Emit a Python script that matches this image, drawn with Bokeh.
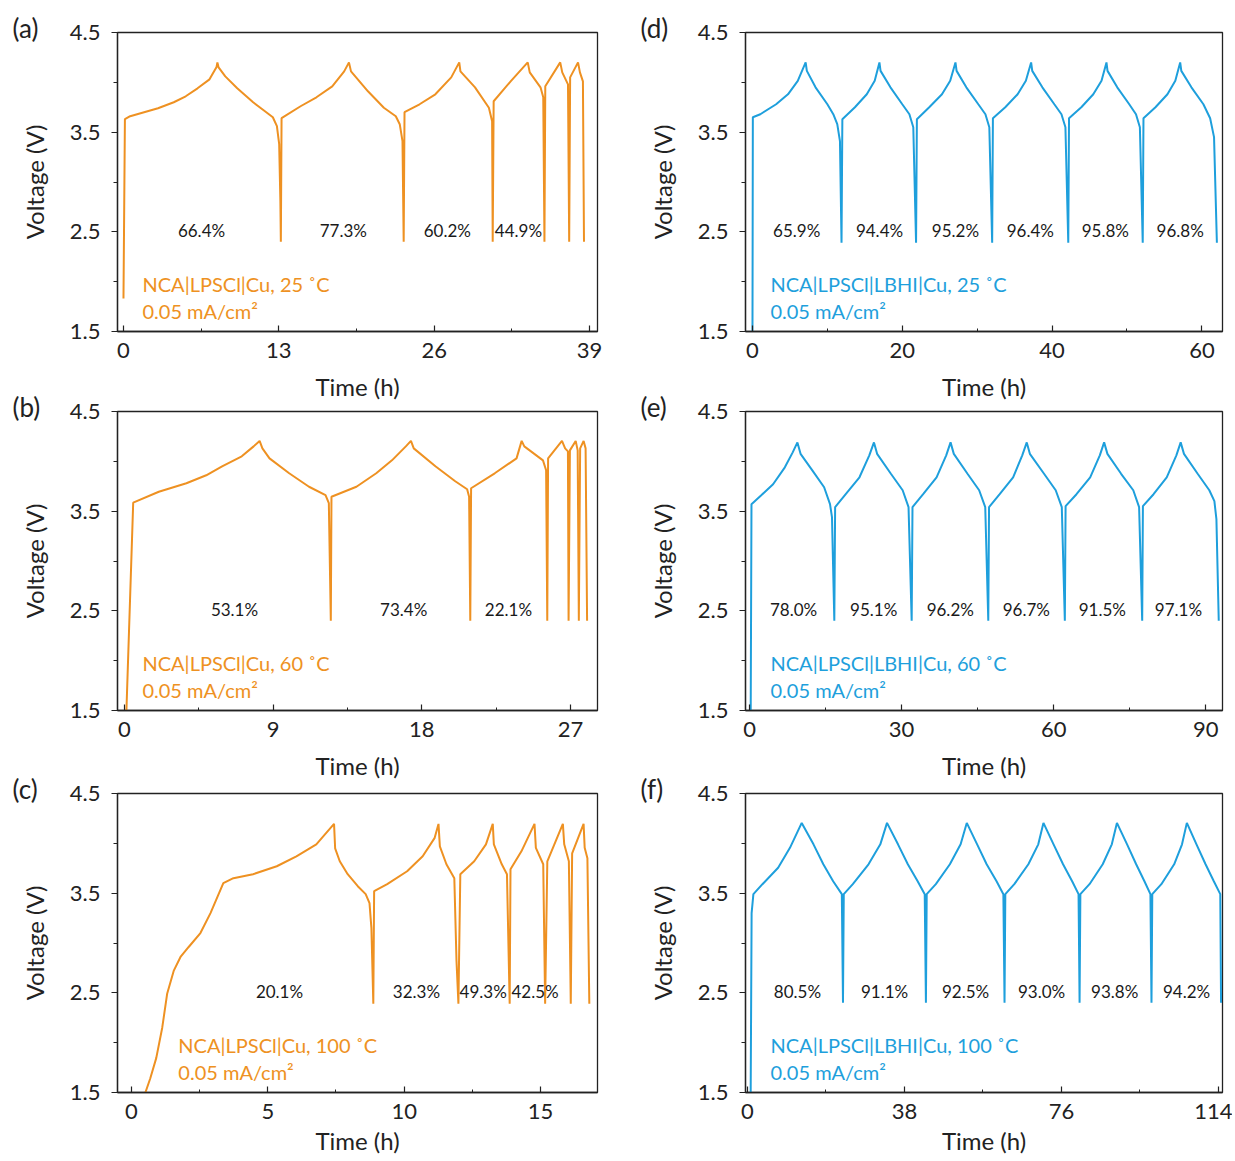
from bokeh.plotting import figure
from bokeh.layouts import column, row
from bokeh.models import FixedTicker, Range1d
from bokeh.core.properties import value
from bokeh.embed import file_html
from bokeh.resources import INLINE

FONT = "Lato"
ORANGE = "#EE9122"
BLUE = "#1E9FDC"

# ---------------- data ----------------
# (a) NCA|LPSCl|Cu, 25 C
TA = [0.0, 0.12, 0.56, 2.89, 4.21, 5.21, 6.2, 7.2, 7.79, 7.86,
      7.96, 8.52, 9.52, 10.85, 11.84, 12.5, 12.84, 13.03, 13.13, 13.17,
      13.23, 14.82, 16.15, 17.47, 18.47, 18.87,
      19.04, 20.46, 21.79, 22.79, 23.12, 23.35, 23.45,
      23.52, 24.78, 26.1, 27.43, 28.1,
      28.2, 29.42, 30.58, 30.85, 30.9,
      30.98, 32.4, 33.83,
      34.0, 34.9, 35.13, 35.23,
      35.3, 36.55,
      36.72, 37.2, 37.3,
      37.38, 38.04,
      38.2, 38.45, 38.54]
VA = [1.83, 3.63, 3.66, 3.74, 3.80, 3.86, 3.94, 4.03, 4.155, 4.2,
      4.15, 4.06, 3.94, 3.80, 3.71, 3.65, 3.56, 3.38, 2.81, 2.40,
      3.64, 3.76, 3.85, 3.96, 4.11, 4.2,
      4.11, 3.91, 3.745, 3.66, 3.58, 3.41, 2.40,
      3.70, 3.78, 3.88, 4.05, 4.2,
      4.11, 3.95, 3.745, 3.61, 2.40,
      3.81, 4.01, 4.2,
      4.1, 3.95, 3.85, 2.40,
      3.96, 4.2,
      4.1, 3.98, 2.40,
      4.05, 4.2,
      4.1, 4.01, 2.40]

# (b) NCA|LPSCl|Cu, 60 C
TB = [0.1, 0.53, 2.08, 3.75, 4.95, 5.91, 7.1, 7.82, 8.18,
      8.35, 8.78, 9.97, 11.17, 12.17, 12.37, 12.49,
      12.53, 14.04, 15.24, 16.19, 17.03, 17.34,
      17.51, 18.82, 20.02, 20.74, 20.86, 20.93,
      20.98, 22.41, 23.73, 24.04,
      24.2, 25.33, 25.52, 25.59,
      25.64, 26.48,
      26.67, 26.84, 26.88,
      26.96, 27.31,
      27.43, 27.5,
      27.58, 27.79,
      27.91, 28.0]
VB = [1.4, 3.585, 3.695, 3.78, 3.86, 3.95, 4.05, 4.15, 4.205,
      4.13, 4.03, 3.88, 3.745, 3.66, 3.58, 2.40,
      3.645, 3.745, 3.88, 4.01, 4.15, 4.205,
      4.13, 3.95, 3.80, 3.72, 3.645, 2.40,
      3.73, 3.88, 4.03, 4.205,
      4.15, 4.01, 3.91, 2.40,
      4.03, 4.205,
      4.13, 4.10, 2.40,
      4.11, 4.205,
      4.11, 2.40,
      4.13, 4.205,
      4.13, 2.40]

# (c) NCA|LPSCl|Cu, 100 C
TC = [0.45, 0.69, 0.91, 1.13, 1.31, 1.55, 1.8, 2.1, 2.53, 2.9, 3.37, 3.74, 4.46, 5.33, 6.05, 6.78, 7.43,
      7.47, 7.64, 7.93, 8.3, 8.59, 8.73, 8.8, 8.87,
      8.9, 9.38, 10.11, 10.68, 11.12, 11.26,
      11.31, 11.55, 11.84, 11.92, 11.99,
      12.06, 12.57, 13.0, 13.25,
      13.29, 13.58, 13.77, 13.87,
      13.9, 14.3, 14.78,
      14.83, 15.1, 15.17,
      15.25, 15.82,
      15.87, 16.04, 16.11,
      16.16, 16.58,
      16.62, 16.72, 16.79]
VC = [1.45, 1.64, 1.845, 2.15, 2.49, 2.72, 2.86, 2.96, 3.10, 3.30, 3.60, 3.65, 3.69, 3.77, 3.87, 3.99, 4.195,
      3.95, 3.82, 3.69, 3.57, 3.49, 3.40, 3.15, 2.39,
      3.52, 3.59, 3.72, 3.87, 4.055, 4.195,
      3.97, 3.79, 3.65, 2.82, 2.39,
      3.69, 3.82, 3.99, 4.195,
      3.99, 3.79, 3.69, 2.39,
      3.74, 3.92, 4.195,
      3.955, 3.79, 2.39,
      3.82, 4.195,
      3.99, 3.82, 2.39,
      3.90, 4.195,
      3.955, 3.85, 2.39]

# (d) NCA|LPSCl|LBHI|Cu, 25 C
TD = [0.0, 0.05, 1.05, 3.16, 4.74, 6.05, 7.1, 7.26, 8.42, 10.0, 10.79, 11.32, 11.68, 11.89,
      12.0, 13.68, 15.26, 16.32, 16.95, 17.1, 18.42, 20.0, 20.95, 21.47, 21.84,
      21.95, 23.6, 25.3, 26.4, 27.1, 27.25, 28.55, 30.15, 31.1, 31.62, 32.0,
      32.1, 33.75, 35.4, 36.5, 37.2, 37.35, 38.7, 40.3, 41.25, 41.78, 42.16,
      42.26, 43.9, 45.5, 46.6, 47.26, 47.4, 48.7, 50.3, 51.2, 51.72, 52.1,
      52.2, 53.8, 55.4, 56.45, 57.1, 57.25, 58.6, 60.2, 61.1, 61.62, 62.0]
VD = [1.4, 3.65, 3.68, 3.78, 3.88, 4.015, 4.2, 4.115, 3.95, 3.78, 3.68, 3.58, 3.41, 2.39,
      3.63, 3.75, 3.88, 4.015, 4.2, 4.115, 3.95, 3.78, 3.68, 3.55, 2.39,
      3.63, 3.75, 3.88, 4.015, 4.2, 4.115, 3.95, 3.78, 3.68, 3.55, 2.39,
      3.64, 3.75, 3.88, 4.015, 4.2, 4.115, 3.95, 3.78, 3.68, 3.55, 2.39,
      3.64, 3.75, 3.88, 4.015, 4.2, 4.115, 3.95, 3.78, 3.68, 3.55, 2.39,
      3.64, 3.75, 3.88, 4.015, 4.2, 4.115, 3.95, 3.78, 3.64, 3.45, 2.39]

# (e) NCA|LPSCl|LBHI|Cu, 60 C
TE = [0.23, 0.39, 2.32, 4.65, 6.97, 8.52, 9.45, 10.07, 12.39, 14.72, 15.88, 16.27, 16.73,
      16.89, 18.98, 21.69, 23.63, 24.55, 25.17, 27.89, 30.21, 31.37, 31.99,
      32.15, 34.25, 36.9, 38.8, 39.66, 40.3, 43.0, 45.3, 46.5, 47.1,
      47.25, 49.35, 52.0, 53.8, 54.69, 55.3, 58.1, 60.4, 61.6, 62.2,
      62.35, 64.5, 67.2, 69.1, 69.95, 70.6, 73.3, 75.7, 76.85, 77.46,
      77.6, 79.7, 82.3, 84.2, 85.05, 85.7, 88.4, 90.7, 91.7, 92.1, 92.56]
VE = [1.4, 3.57, 3.66, 3.77, 3.94, 4.09, 4.19, 4.075, 3.91, 3.74, 3.57, 3.44, 2.40,
      3.54, 3.67, 3.84, 4.06, 4.19, 4.075, 3.875, 3.71, 3.54, 2.40,
      3.54, 3.67, 3.84, 4.06, 4.19, 4.075, 3.875, 3.71, 3.54, 2.40,
      3.54, 3.67, 3.84, 4.06, 4.19, 4.075, 3.875, 3.71, 3.54, 2.40,
      3.55, 3.67, 3.84, 4.06, 4.19, 4.075, 3.875, 3.71, 3.54, 2.40,
      3.55, 3.67, 3.84, 4.06, 4.19, 4.075, 3.875, 3.71, 3.60, 3.42, 2.40]

# (f) NCA|LPSCl|LBHI|Cu, 100 C
TF = [0.76, 1.0, 1.43, 3.62, 7.42, 10.28, 13.13, 15.98, 18.36, 20.74, 22.84, 23.12,
      23.31, 25.5, 29.3, 32.16, 33.78, 36.44, 38.82, 41.2, 42.91, 43.2,
      43.39, 45.6, 49.0, 51.6, 53.09, 55.6, 57.9, 60.3, 61.95, 62.23,
      62.42, 64.6, 68.0, 70.4, 71.65, 74.1, 76.4, 78.6, 80.15, 80.4,
      80.59, 82.8, 86.0, 88.2, 89.44, 91.9, 94.1, 96.1, 97.55, 97.81,
      98.0, 100.2, 103.3, 105.2, 106.37, 108.7, 110.9, 112.9, 114.46, 114.65]
VF = [1.4, 3.3, 3.49, 3.59, 3.755, 3.955, 4.205, 3.99, 3.79, 3.62, 3.49, 2.40,
      3.49, 3.59, 3.79, 3.99, 4.205, 3.99, 3.79, 3.62, 3.49, 2.40,
      3.49, 3.59, 3.79, 3.99, 4.205, 3.99, 3.79, 3.62, 3.49, 2.40,
      3.49, 3.59, 3.79, 3.99, 4.205, 3.99, 3.79, 3.62, 3.49, 2.40,
      3.49, 3.59, 3.79, 3.99, 4.205, 3.99, 3.79, 3.62, 3.49, 2.40,
      3.49, 3.59, 3.79, 3.99, 4.205, 3.99, 3.79, 3.62, 3.49, 2.40]

# coulombic efficiency labels
CE_A = ["66.4%", "77.3%", "60.2%", "44.9%"]
CE_A_T = [6.53, 18.4, 27.1, 33.05]
CE_B = ["53.1%", "73.4%", "22.1%"]
CE_B_T = [6.66, 16.9, 23.24]
CE_C = ["20.1%", "32.3%", "49.3%", "42.5%"]
CE_C_T = [5.43, 10.45, 12.9, 14.8]
CE_D = ["65.9%", "94.4%", "95.2%", "96.4%", "95.8%", "96.8%"]
CE_D_T = [5.9, 16.96, 27.1, 37.1, 47.1, 57.1]
CE_E = ["78.0%", "95.1%", "96.2%", "96.7%", "91.5%", "97.1%"]
CE_E_T = [8.7, 24.5, 39.6, 54.6, 69.6, 84.6]
CE_F = ["80.5%", "91.1%", "92.5%", "93.0%", "93.8%", "94.2%"]
CE_F_T = [12.1, 33.2, 52.8, 71.2, 88.9, 106.3]
CE_V = 2.51

# axis ticks
X_TICKS = {"a": [0, 13, 26, 39], "b": [0, 9, 18, 27], "c": [0, 5, 10, 15],
           "d": [0, 20, 40, 60], "e": [0, 30, 60, 90], "f": [0, 38, 76, 114]}
X_RANGES = {"a": (-0.5, 39.67), "b": (-0.42, 28.63), "c": (-0.51, 17.09),
            "d": (-0.93, 62.75), "e": (-0.79, 93.3), "f": (-0.48, 115.0)}
Y_TICKS = [1.5, 2.5, 3.5, 4.5]
Y_MINOR = [2.0, 3.0, 4.0]

CELLS = {"a": "NCA|LPSCl|Cu, 25 ˚C", "b": "NCA|LPSCl|Cu, 60 ˚C", "c": "NCA|LPSCl|Cu, 100 ˚C",
         "d": "NCA|LPSCl|LBHI|Cu, 25 ˚C", "e": "NCA|LPSCl|LBHI|Cu, 60 ˚C",
         "f": "NCA|LPSCl|LBHI|Cu, 100 ˚C"}
CURRENT = "0.05 mA/cm²"
CELL_T = {"a": 1.59, "b": 1.09, "c": 1.72, "d": 2.4, "e": 4.14, "f": 5.57}
CELL_V1 = 1.98
CELL_V2 = 1.71


def panel(key, T, V, ce_t, ce, color, fw, bl, br, bb, xstand=11, tstand=11):
    x0, x1 = X_RANGES[key]
    p = figure(frame_width=fw, frame_height=299, output_backend="svg",
               toolbar_location=None, x_range=Range1d(x0, x1), y_range=Range1d(1.5, 4.5),
               min_border_left=bl, min_border_right=br, min_border_top=32,
               min_border_bottom=bb)
    p.xgrid.visible = False
    p.ygrid.visible = False
    p.outline_line_color = "#222222"
    p.outline_line_width = 1.3
    p.background_fill_color = "white"
    p.border_fill_alpha = 0.0

    # panel letter as a title pulled into the left border
    p.title.text = "(" + key + ")"
    p.title.align = "left"
    p.title.offset = -105
    p.title.standoff = -24
    p.title.vertical_align = "middle"
    p.title.text_font = FONT
    p.title.text_font_size = "26px"
    p.title.text_font_style = "normal"
    p.title.text_color = "#222222"

    majors = X_TICKS[key]
    step = majors[1] - majors[0]
    minors = [m + step / 2 for m in majors[:-1]]
    p.xaxis.ticker = FixedTicker(ticks=majors, minor_ticks=minors)
    p.yaxis.ticker = FixedTicker(ticks=Y_TICKS, minor_ticks=Y_MINOR)

    for ax in (p.xaxis[0], p.yaxis[0]):
        ax.axis_line_color = "#222222"
        ax.axis_line_width = 1.3
        ax.major_tick_line_color = "#222222"
        ax.minor_tick_line_color = "#222222"
        ax.major_tick_line_width = 1.2
        ax.minor_tick_line_width = 1.0
        ax.major_label_text_font = FONT
        ax.major_label_text_font_size = "22px"
        ax.major_label_text_color = "#222222"
        ax.axis_label_text_font = FONT
        ax.axis_label_text_font_size = "24px"
        ax.axis_label_text_font_style = "normal"
        ax.axis_label_text_color = "#222222"

    p.xaxis.major_tick_in = 6
    p.xaxis.major_tick_out = 0
    p.xaxis.minor_tick_in = 3
    p.xaxis.minor_tick_out = 0
    p.xaxis.major_label_standoff = tstand
    p.xaxis.axis_label = "Time (h)"
    p.xaxis.axis_label_standoff = xstand

    p.yaxis.major_tick_in = 0
    p.yaxis.major_tick_out = 6
    p.yaxis.minor_tick_in = 0
    p.yaxis.minor_tick_out = 4
    p.yaxis.major_label_standoff = 11
    p.yaxis.axis_label = "Voltage (V)"
    p.yaxis.axis_label_standoff = 18

    p.line(T, V, line_color=color, line_width=2)

    p.text(x=ce_t, y=[CE_V] * len(ce_t), text=ce, text_font=value(FONT),
           text_font_size="17px", text_color="#1a1a1a", text_align="center",
           text_baseline="middle")

    p.text(x=[CELL_T[key], CELL_T[key]], y=[CELL_V1, CELL_V2], text=[CELLS[key], CURRENT],
           text_font=value(FONT), text_font_size="20px", text_color=color,
           text_align="left", text_baseline="middle")
    return p


pa = panel("a", TA, VA, CE_A_T, CE_A, ORANGE, 480, 117, 39, 78)
pd = panel("d", TD, VD, CE_D_T, CE_D, BLUE, 477, 109, 10, 78)
pb = panel("b", TB, VB, CE_B_T, CE_B, ORANGE, 480, 117, 39, 78)
pe = panel("e", TE, VE, CE_E_T, CE_E, BLUE, 477, 109, 10, 78)
pc = panel("c", TC, VC, CE_C_T, CE_C, ORANGE, 480, 117, 39, 69, xstand=4, tstand=11)
pf = panel("f", TF, VF, CE_F_T, CE_F, BLUE, 477, 109, 10, 69, xstand=4, tstand=11)

layout = column(row(pa, pd),
                row(pb, pe, margin=(-30, 0, 0, 0)),
                row(pc, pf, margin=(-27, 0, 0, 0)))
open("out.html", "w").write(file_html(layout, INLINE))
